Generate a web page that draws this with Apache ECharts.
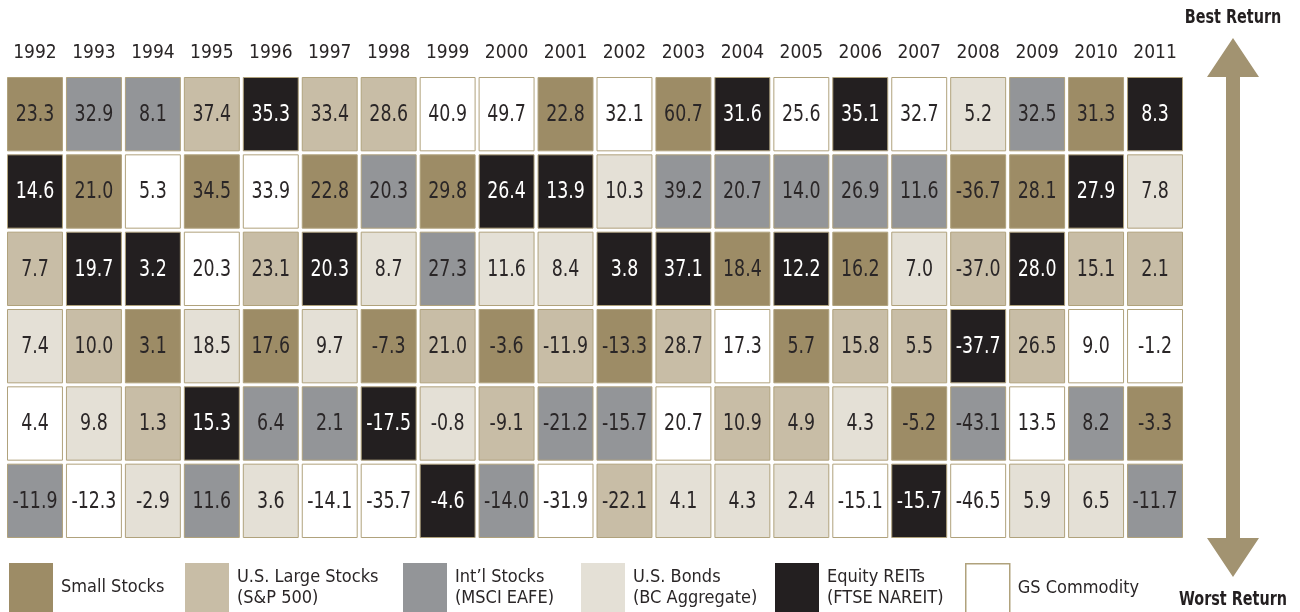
<!DOCTYPE html>
<html>
<head>
<meta charset="utf-8">
<script src="https://cdn.jsdelivr.net/npm/echarts@6/dist/echarts.min.js"></script>
<style>
  html, body { margin: 0; padding: 0; background: #fff; }
  #chart { width: 1300px; height: 612px; }
</style>
</head>
<body>
<div id="chart"></div>
<script>
const years = ['1992', '1993', '1994', '1995', '1996', '1997', '1998', '1999', '2000', '2001',
  '2002', '2003', '2004', '2005', '2006', '2007', '2008', '2009', '2010', '2011'];
const ranks = ['1', '2', '3', '4', '5', '6'];

// annual returns (%) per asset class, 1992-2011
const smallStocks = [23.3, 21.0, 3.1, 34.5, 17.6, 22.8, -7.3, 29.8, -3.6, 22.8, -13.3, 60.7, 18.4, 5.7, 16.2, -5.2, -36.7, 28.1, 31.3, -3.3];
const largeStocks = [7.7, 10.0, 1.3, 37.4, 23.1, 33.4, 28.6, 21.0, -9.1, -11.9, -22.1, 28.7, 10.9, 4.9, 15.8, 5.5, -37.0, 26.5, 15.1, 2.1];
const intlStocks = [-11.9, 32.9, 8.1, 11.6, 6.4, 2.1, 20.3, 27.3, -14.0, -21.2, -15.7, 39.2, 20.7, 14.0, 26.9, 11.6, -43.1, 32.5, 8.2, -11.7];
const usBonds = [7.4, 9.8, -2.9, 18.5, 3.6, 9.7, 8.7, -0.8, 11.6, 8.4, 10.3, 4.1, 4.3, 2.4, 4.3, 7.0, 5.2, 5.9, 6.5, 7.8];
const equityReits = [14.6, 19.7, 3.2, 15.3, 35.3, 20.3, -17.5, -4.6, 26.4, 13.9, 3.8, 37.1, 31.6, 12.2, 35.1, -15.7, -37.7, 28.0, 27.9, 8.3];
const gsCommodity = [4.4, -12.3, 5.3, 20.3, 33.9, -14.1, -35.7, 40.9, 49.7, -31.9, 32.1, 20.7, 17.3, 25.6, -15.1, 32.7, -46.5, 13.5, 9.0, -1.2];

const assetNames = ['Small Stocks', 'U.S. Large Stocks', 'Int\u2019l Stocks', 'U.S. Bonds', 'Equity REITs', 'GS Commodity'];
const assetSubs = ['', '(S&P 500)', '(MSCI EAFE)', '(BC Aggregate)', '(FTSE NAREIT)', ''];
const assetReturns = [smallStocks, largeStocks, intlStocks, usBonds, equityReits, gsCommodity];

const fills = ['#9d8c66', '#c8bda6', '#939598', '#e4e0d6', '#231f20', '#ffffff'];
const textColors = ['#2a2627', '#2a2627', '#2a2627', '#2a2627', '#ffffff', '#2a2627'];
const cellBorder = '#b0a27c';
const arrowColor = '#a29371';
const FONT = '"DejaVu Sans Condensed", "Roboto", sans-serif';
const legendLeft = [9, 185, 403, 581, 775, 965];

// rank of each class within each year (0 = best)
function rankOf(ai, yi) {
  const v = assetReturns[ai][yi];
  let r = 0;
  assetReturns.forEach((arr, j) => {
    if (arr[yi] > v || (arr[yi] === v && j < ai)) r++;
  });
  return r;
}

const series = assetNames.map((name, ai) => ({
  name: name,
  type: 'custom',
  itemStyle: { color: fills[ai], borderColor: cellBorder, borderWidth: 1 },
  data: years.map((y, yi) => [yi, rankOf(ai, yi), assetReturns[ai][yi]]),
  renderItem: function (params, api) {
    const c = api.coord([api.value(0), api.value(1)]);
    const s = api.size([1, 1]);
    const gap = 3;
    return {
      type: 'group',
      children: [
        {
          type: 'rect',
          shape: {
            x: c[0] - s[0] / 2 + gap / 2 + 0.5,
            y: c[1] - s[1] / 2 + gap / 2 + 0.5,
            width: s[0] - gap - 1,
            height: s[1] - gap - 1
          },
          style: { fill: fills[ai], stroke: cellBorder, lineWidth: 1 }
        },
        {
          type: 'text',
          x: c[0],
          y: c[1] + 1,
          scaleX: 0.84,
          style: {
            text: api.value(2).toFixed(1),
            fill: textColors[ai],
            font: '23px ' + FONT,
            align: 'center',
            verticalAlign: 'middle'
          }
        }
      ]
    };
  }
}));

const legends = assetNames.map((name, ai) => ({
  data: [{
    name: name,
    itemStyle: { color: fills[ai], borderColor: ai === 5 ? cellBorder : fills[ai], borderWidth: ai === 5 ? 1.5 : 0 }
  }],
  left: legendLeft[ai],
  top: 563,
  padding: 0,
  icon: 'rect',
  itemWidth: 44,
  itemHeight: 49,
  itemGap: 8,
  selectedMode: false,
  formatter: n => assetSubs[ai] ? n + '\n' + assetSubs[ai] : n,
  textStyle: {
    fontFamily: FONT,
    fontSize: 18,
    color: '#2a2627',
    lineHeight: 21,
    padding: [0, 0, 0, 3]
  }
}));

const chart = echarts.init(document.getElementById('chart'), null, { renderer: 'canvas' });
chart.setOption({
  backgroundColor: '#ffffff',
  animation: false,
  grid: { left: 5.5, top: 75.5, width: 1179, height: 464 },
  xAxis: {
    type: 'category',
    data: years,
    position: 'top',
    axisLine: { show: false },
    axisTick: { show: false },
    axisLabel: { interval: 0, fontFamily: FONT, fontSize: 19, color: '#2a2627', margin: 13 }
  },
  yAxis: {
    type: 'category',
    data: ranks,
    inverse: true,
    show: false
  },
  legend: legends,
  series: series,
  graphic: [
    {
      type: 'polygon',
      shape: {
        points: [[1233, 38], [1259, 77], [1240, 77], [1240, 538], [1259, 538], [1233, 577],
          [1207, 538], [1226, 538], [1226, 77], [1207, 77]]
      },
      style: { fill: arrowColor }
    },
    {
      type: 'text', x: 1233, y: 18, scaleX: 0.8,
      style: { text: 'Best Return', font: 'bold 20px ' + FONT, fill: '#231f20', align: 'center', verticalAlign: 'middle' }
    },
    {
      type: 'text', x: 1233, y: 600, scaleX: 0.8,
      style: { text: 'Worst Return', font: 'bold 20px ' + FONT, fill: '#231f20', align: 'center', verticalAlign: 'middle' }
    }
  ]
});
</script>
</body>
</html>
